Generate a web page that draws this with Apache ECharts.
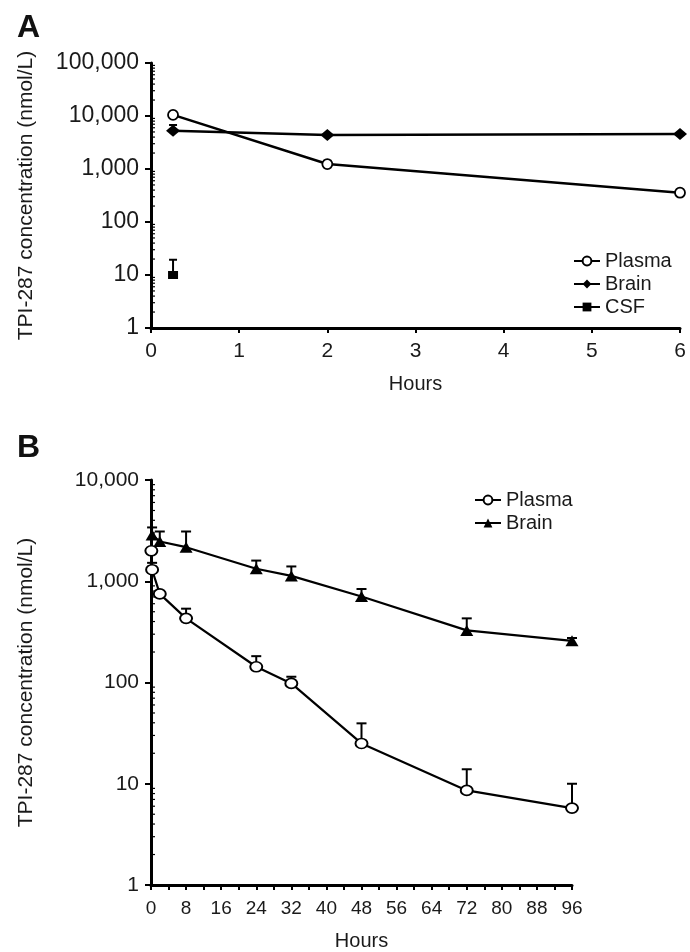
<!DOCTYPE html>
<html><head><meta charset="utf-8">
<script src="https://cdn.jsdelivr.net/npm/echarts@6/dist/echarts.min.js"></script>
<style>html,body{margin:0;padding:0;background:#fff}#c{width:690px;height:952px}</style>
</head><body><div id="c"></div>
<script>
const FONT = 'Liberation Sans, Arial, Helvetica, sans-serif';
// ---- Panel A ----
const aPlasmaHours = [0.25, 2, 6];
const aPlasmaMean  = [10500, 1240, 357];
const aPlasmaUpper = [11800, 1430, 390];
const aBrainHours  = [0.25, 2, 6];
const aBrainMean   = [5280, 4380, 4570];
const aBrainUpper  = [6760, 4380, 4570];
const aCsfHours    = [0.25];
const aCsfMean     = [10];
const aCsfUpper    = [19.4];
// ---- Panel B ----
const bPlasmaHours = [0.083, 0.25, 2, 8, 24, 32, 48, 72, 96];
const bPlasmaMean  = [2000, 1300, 750, 430, 143, 98, 25, 8.6, 5.75];
const bPlasmaUpper = [2000, 1520, 750, 536, 182, 114, 39.5, 13.9, 10];
const bBrainHours  = [0.25, 2, 8, 24, 32, 48, 72, 96];
const bBrainMean   = [2870, 2470, 2170, 1330, 1130, 707, 327, 258];
const bBrainUpper  = [3400, 3100, 3100, 1600, 1400, 838, 430, 275];
// ---- minor tick positions (log axes) ----
const minorMultipliers = [2, 3, 4, 5, 6, 7, 8, 9];
const aDecades = [1, 10, 100, 1000, 10000];
const bDecades = [1, 10, 100, 1000];

const pairs = (xs, ys) => xs.map((x, i) => [x, ys[i]]);
const minorVals = decs => decs.flatMap(d => minorMultipliers.map(m => m * d));
const fmt = v => Number(v).toLocaleString('en-US');

function errSeries(idx, xs, means, uppers, cap, lw) {
  return {
    type: 'custom', xAxisIndex: idx, yAxisIndex: idx, silent: true, z: 1,
    data: xs.map((x, i) => [x, means[i], uppers[i]]),
    renderItem: (params, api) => {
      if (api.value(2) <= api.value(1)) return null;
      const p0 = api.coord([api.value(0), api.value(1)]);
      const p1 = api.coord([api.value(0), api.value(2)]);
      return { type: 'group', children: [
        { type: 'line', shape: { x1: p0[0], y1: p0[1], x2: p1[0], y2: p1[1] }, style: { stroke: '#000', lineWidth: lw } },
        { type: 'line', shape: { x1: p1[0] - cap, y1: p1[1], x2: p1[0] + cap, y2: p1[1] }, style: { stroke: '#000', lineWidth: lw } }
      ]};
    }
  };
}
function minorTickSeries(idx, decs, len) {
  return {
    type: 'custom', xAxisIndex: idx, yAxisIndex: idx, silent: true, clip: false, z: 3,
    data: minorVals(decs).map(v => [0, v]),
    renderItem: (params, api) => {
      const p = api.coord([0, api.value(1)]);
      return { type: 'line', shape: { x1: p[0], y1: p[1], x2: p[0] + len, y2: p[1] }, style: { stroke: '#000', lineWidth: 1.2 } };
    }
  };
}

const axisText = { color: '#1a1a1a', fontFamily: FONT };
function xAx(idx, max, interval, labelSize, margin, nameGap, minor) {
  return {
    gridIndex: idx, type: 'value', min: 0, max: max, interval: interval,
    axisLine: { show: true, lineStyle: { color: '#000', width: 3 } },
    axisTick: { show: true, length: 5, lineStyle: { color: '#000', width: 2 } },
    minorTick: { show: minor, splitNumber: 2, length: 5, lineStyle: { color: '#000', width: 2 } },
    axisLabel: Object.assign({ fontSize: labelSize, margin: margin }, axisText),
    splitLine: { show: false },
    name: 'Hours', nameLocation: 'middle', nameGap: nameGap,
    nameTextStyle: Object.assign({ fontSize: 20 }, axisText)
  };
}
function yAx(idx, max, labelSize) {
  return {
    gridIndex: idx, type: 'log', logBase: 10, min: 1, max: max,
    axisLine: { show: true, lineStyle: { color: '#000', width: 3 } },
    axisTick: { show: true, length: 6, lineStyle: { color: '#000', width: 2 } },
    axisLabel: Object.assign({ fontSize: labelSize, margin: 12, formatter: fmt }, axisText),
    splitLine: { show: false },
    name: 'TPI-287 concentration (nmol/L)', nameLocation: 'middle', nameGap: 114,
    nameTextStyle: Object.assign({ fontSize: 21 }, axisText)
  };
}

const lineBase = { type: 'line', z: 5, animation: false };

const option = {
  animation: false,
  backgroundColor: '#fff',
  title: [
    { text: 'A', left: 12, top: 7, textStyle: { fontSize: 32, fontWeight: 'bold', color: '#111', fontFamily: FONT } },
    { text: 'B', left: 12, top: 427, textStyle: { fontSize: 32, fontWeight: 'bold', color: '#111', fontFamily: FONT } }
  ],
  grid: [
    { left: 151, right: 10, top: 63, height: 265 },
    { left: 151, right: 118, top: 480, height: 405 }
  ],
  xAxis: [ xAx(0, 6, 1, 21, 13, 46, false), xAx(1, 96, 8, 19, 14, 46, true) ],
  yAxis: [ yAx(0, 100000, 23), yAx(1, 10000, 21) ],
  legend: [
    { data: ['Plasma', 'Brain', 'CSF'], orient: 'vertical', left: 568, top: 246, itemWidth: 26, itemHeight: 11, itemGap: 3,
      selectedMode: false, textStyle: Object.assign({ fontSize: 20 }, axisText) },
    { data: ['Plasma (B)', 'Brain (B)'], formatter: n => n.replace(' (B)', ''), orient: 'vertical', left: 469, top: 485,
      itemWidth: 26, itemHeight: 11, itemGap: 3, selectedMode: false, textStyle: Object.assign({ fontSize: 20 }, axisText) }
  ],
  series: [
    errSeries(0, aPlasmaHours, aPlasmaMean, aPlasmaUpper, 4, 2),
    errSeries(0, aBrainHours, aBrainMean, aBrainUpper, 4, 2),
    errSeries(0, aCsfHours, aCsfMean, aCsfUpper, 4, 2),
    errSeries(1, bPlasmaHours, bPlasmaMean, bPlasmaUpper, 5, 2),
    errSeries(1, bBrainHours, bBrainMean, bBrainUpper, 5, 2),
    minorTickSeries(0, aDecades, 4),
    minorTickSeries(1, bDecades, 4),
    Object.assign({}, lineBase, { name: 'Plasma', xAxisIndex: 0, yAxisIndex: 0, data: pairs(aPlasmaHours, aPlasmaMean),
      symbol: 'circle', symbolSize: 10, lineStyle: { color: '#000', width: 2.6 }, itemStyle: { color: '#fff', borderColor: '#000', borderWidth: 1.8 } }),
    Object.assign({}, lineBase, { name: 'Brain', xAxisIndex: 0, yAxisIndex: 0, data: pairs(aBrainHours, aBrainMean),
      symbol: 'diamond', symbolSize: [14, 12], lineStyle: { color: '#000', width: 2.6 }, itemStyle: { color: '#000' } }),
    Object.assign({}, lineBase, { name: 'CSF', xAxisIndex: 0, yAxisIndex: 0, data: pairs(aCsfHours, aCsfMean),
      symbol: 'rect', symbolSize: [10, 8], lineStyle: { color: '#000', width: 2.6 }, itemStyle: { color: '#000' } }),
    Object.assign({}, lineBase, { name: 'Plasma (B)', xAxisIndex: 1, yAxisIndex: 1, data: pairs(bPlasmaHours, bPlasmaMean),
      symbol: 'circle', symbolSize: [12, 10], lineStyle: { color: '#000', width: 2.2 }, itemStyle: { color: '#fff', borderColor: '#000', borderWidth: 1.8 } }),
    Object.assign({}, lineBase, { name: 'Brain (B)', xAxisIndex: 1, yAxisIndex: 1, data: pairs(bBrainHours, bBrainMean),
      symbol: 'triangle', symbolSize: [13, 11], lineStyle: { color: '#000', width: 2.2 }, itemStyle: { color: '#000' } })
  ]
};
const chart = echarts.init(document.getElementById('c'), null, { renderer: 'canvas' });
chart.setOption(option);
</script></body></html>
